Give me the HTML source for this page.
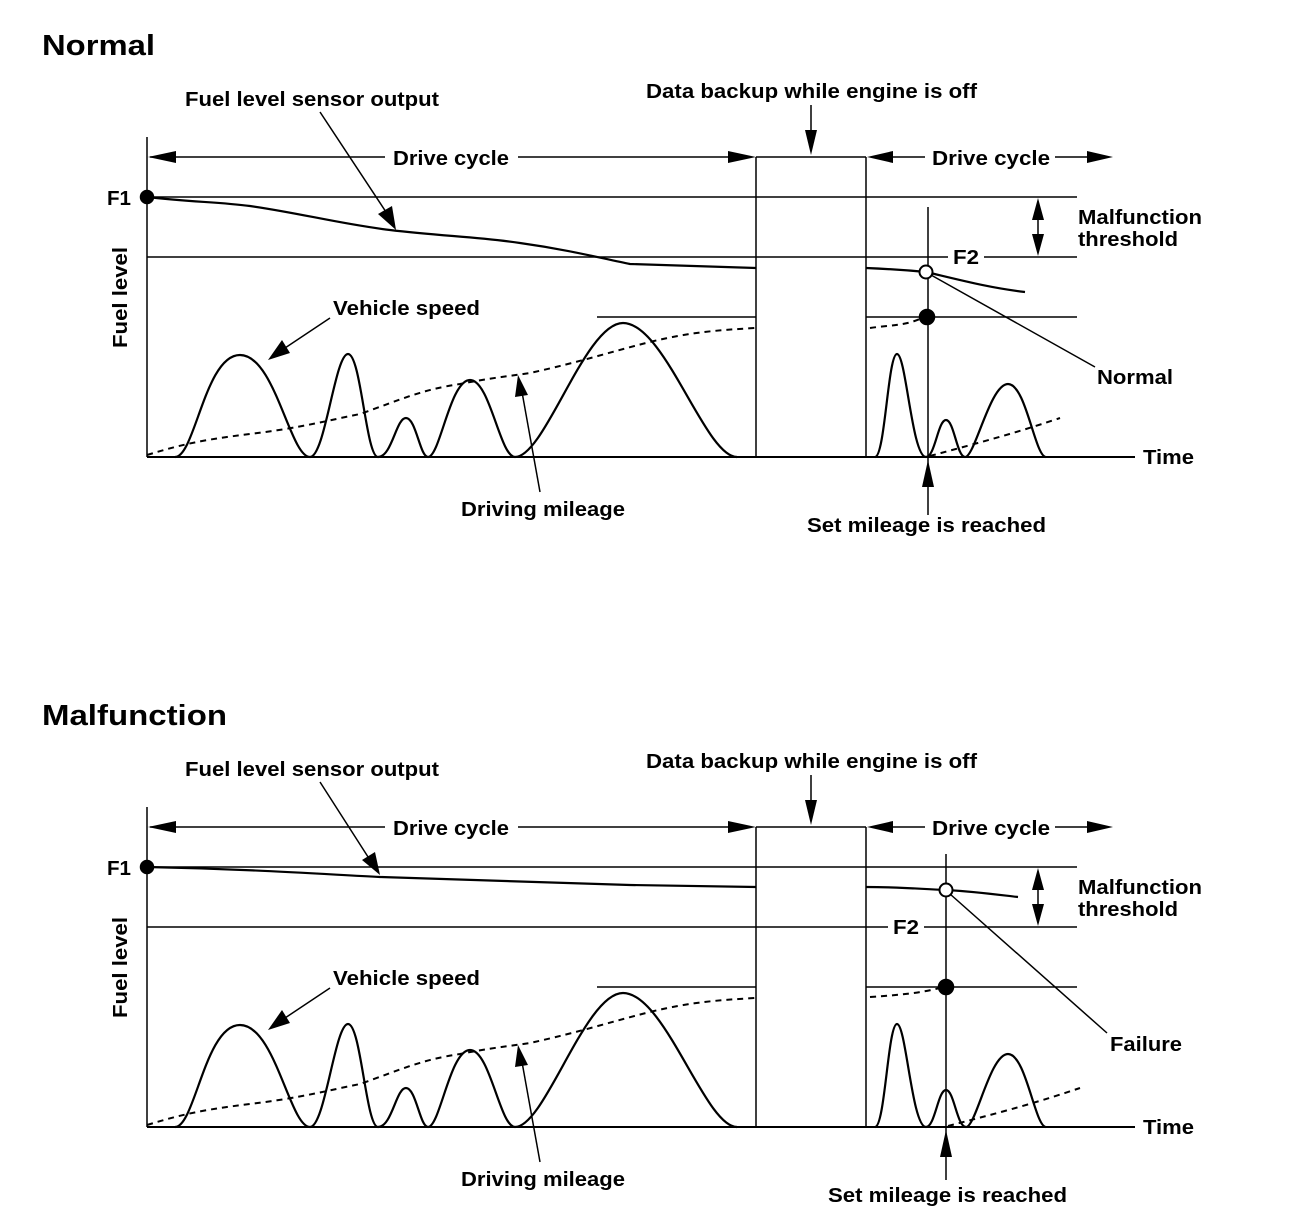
<!DOCTYPE html>
<html><head><meta charset="utf-8"><style>
html,body{margin:0;padding:0;background:#fff;}
svg{display:block;}
text{font-family:"Liberation Sans",Arial,sans-serif;font-weight:bold;fill:#000;}
</style></head><body>
<svg width="1312" height="1220" viewBox="0 0 1312 1220" xmlns="http://www.w3.org/2000/svg">

<!-- ===== TOP PANEL ===== -->
<g stroke="#000" fill="none" stroke-width="1.5">
<line x1="147" y1="137" x2="147" y2="457"/>
<line x1="147" y1="457" x2="1135" y2="457" stroke-width="2"/>
<line x1="147" y1="197" x2="1077" y2="197"/>
<line x1="147" y1="257" x2="948" y2="257"/>
<line x1="984" y1="257" x2="1077" y2="257"/>
<line x1="597" y1="317" x2="756" y2="317"/>
<line x1="866" y1="317" x2="1077" y2="317"/>
<line x1="756" y1="157" x2="756" y2="457"/>
<line x1="866" y1="157" x2="866" y2="457"/>
<line x1="756" y1="157" x2="866" y2="157"/>
<line x1="150" y1="157" x2="385" y2="157"/>
<polygon points="148,157 176,151 176,163" fill="#000" stroke="none"/>
<line x1="518" y1="157" x2="735" y2="157"/>
<polygon points="756,157 728,151 728,163" fill="#000" stroke="none"/>
<line x1="880" y1="157" x2="925" y2="157"/>
<polygon points="867,157 893,151 893,163" fill="#000" stroke="none"/>
<line x1="1055" y1="157" x2="1095" y2="157"/>
<polygon points="1113,157 1087,151 1087,163" fill="#000" stroke="none"/>
<line x1="811" y1="105" x2="811" y2="135"/>
<polygon points="811,155 805,130 817,130" fill="#000" stroke="none"/>
<line x1="1038" y1="210" x2="1038" y2="244"/>
<polygon points="1038,198 1032,220 1044,220" fill="#000" stroke="none"/>
<polygon points="1038,256 1032,234 1044,234" fill="#000" stroke="none"/>
<path d="M147,197 C190,202 220,202 250,206 C300,213 340,224 390,230 C440,236 480,237 520,243 C570,250 600,258 630,264 L756,268" stroke-width="2.2"/>
<path d="M866,268 C890,269 905,270 926,272 C960,280 990,288 1025,292" stroke-width="2.2"/>
<circle cx="147" cy="197" r="6.5" fill="#000"/>
<line x1="320" y1="112" x2="388" y2="215"/>
<polygon points="396,230 378,214 392,206" fill="#000" stroke="none"/>
<line x1="928" y1="207" x2="928" y2="470"/>
<polygon points="928,460 922,487 934,487" fill="#000" stroke="none"/>
<line x1="928" y1="485" x2="928" y2="515"/>
<circle cx="926" cy="272" r="6.5" fill="#fff" stroke-width="2"/>
<circle cx="927" cy="317" r="7.5" fill="#000"/>
<line x1="931" y1="275" x2="1095" y2="367"/>
<path d="M175,457 C195,457 205,355 240,355 C275,355 290,457 310,457 C325,457 335,354 348,354 C361,354 366,457 378,457 C392,457 396,418 406,418 C416,418 420,457 428,457 C440,457 450,380 470,380 C490,380 500,457 515,457 C545,457 585,323 623,323 C665,323 705,457 737,457" stroke-width="2.2"/>
<path d="M875,457 C885,457 888,354 897,354 C906,354 912,457 926,457 C935,457 938,420 946,420 C954,420 957,457 965,457 C975,457 990,384 1008,384 C1026,384 1035,457 1046,457" stroke-width="2.2"/>
<path d="M147,455 C180,445 200,440 250,434 C300,428 330,420 360,414 C400,400 420,390 460,384 C490,378 510,376 530,373 C580,362 610,352 650,342 C690,332 720,330 755,328" stroke-dasharray="6,5" stroke-width="2"/>
<path d="M870,328 C890,325 905,326 922,318" stroke-dasharray="6,5" stroke-width="2"/>
<path d="M930,456 C970,445 1010,435 1060,418" stroke-dasharray="6,5" stroke-width="2"/>
<line x1="330" y1="318" x2="282" y2="350"/>
<polygon points="268,360 282,340 290,353" fill="#000" stroke="none"/>
<line x1="540" y1="492" x2="522" y2="392"/>
<polygon points="518,375 515,397 528,395" fill="#000" stroke="none"/>
</g>
<g font-size="20">
<text x="42" y="55" font-size="29" textLength="113" lengthAdjust="spacingAndGlyphs">Normal</text>
<text x="185" y="106" textLength="254" lengthAdjust="spacingAndGlyphs">Fuel level sensor output</text>
<text x="646" y="98" textLength="331" lengthAdjust="spacingAndGlyphs">Data backup while engine is off</text>
<text x="393" y="165" textLength="116" lengthAdjust="spacingAndGlyphs">Drive cycle</text>
<text x="932" y="165" textLength="118" lengthAdjust="spacingAndGlyphs">Drive cycle</text>
<text x="107" y="205" textLength="24" lengthAdjust="spacingAndGlyphs">F1</text>
<text x="953" y="264" textLength="26" lengthAdjust="spacingAndGlyphs">F2</text>
<text x="1078" y="224" textLength="124" lengthAdjust="spacingAndGlyphs">Malfunction</text>
<text x="1078" y="246" textLength="100" lengthAdjust="spacingAndGlyphs">threshold</text>
<text x="333" y="315" textLength="147" lengthAdjust="spacingAndGlyphs">Vehicle speed</text>
<text x="1097" y="384" textLength="76" lengthAdjust="spacingAndGlyphs">Normal</text>
<text x="1143" y="464" textLength="51" lengthAdjust="spacingAndGlyphs">Time</text>
<text x="461" y="516" textLength="164" lengthAdjust="spacingAndGlyphs">Driving mileage</text>
<text x="807" y="532" textLength="239" lengthAdjust="spacingAndGlyphs">Set mileage is reached</text>
<text transform="translate(127,348) rotate(-90)" textLength="101" lengthAdjust="spacingAndGlyphs">Fuel level</text>
</g>

<!-- ===== BOTTOM PANEL ===== -->
<g transform="translate(0,670)">
<g stroke="#000" fill="none" stroke-width="1.5">
<line x1="147" y1="137" x2="147" y2="457"/>
<line x1="147" y1="457" x2="1135" y2="457" stroke-width="2"/>
<line x1="147" y1="197" x2="1077" y2="197"/>
<line x1="147" y1="257" x2="888" y2="257"/>
<line x1="924" y1="257" x2="1077" y2="257"/>
<line x1="597" y1="317" x2="756" y2="317"/>
<line x1="866" y1="317" x2="1077" y2="317"/>
<line x1="756" y1="157" x2="756" y2="457"/>
<line x1="866" y1="157" x2="866" y2="457"/>
<line x1="756" y1="157" x2="866" y2="157"/>
<line x1="150" y1="157" x2="385" y2="157"/>
<polygon points="148,157 176,151 176,163" fill="#000" stroke="none"/>
<line x1="518" y1="157" x2="735" y2="157"/>
<polygon points="756,157 728,151 728,163" fill="#000" stroke="none"/>
<line x1="880" y1="157" x2="925" y2="157"/>
<polygon points="867,157 893,151 893,163" fill="#000" stroke="none"/>
<line x1="1055" y1="157" x2="1095" y2="157"/>
<polygon points="1113,157 1087,151 1087,163" fill="#000" stroke="none"/>
<line x1="811" y1="105" x2="811" y2="135"/>
<polygon points="811,155 805,130 817,130" fill="#000" stroke="none"/>
<line x1="1038" y1="210" x2="1038" y2="244"/>
<polygon points="1038,198 1032,220 1044,220" fill="#000" stroke="none"/>
<polygon points="1038,256 1032,234 1044,234" fill="#000" stroke="none"/>
<path d="M147,197 C250,199 320,204 380,207 C480,210 560,213 630,215 L756,217" stroke-width="2.2"/>
<path d="M866,217 C900,217 920,219 946,220 C980,222 1000,225 1018,227" stroke-width="2.2"/>
<circle cx="147" cy="197" r="6.5" fill="#000"/>
<line x1="320" y1="112" x2="370" y2="190"/>
<polygon points="380,205 362,190 375,182" fill="#000" stroke="none"/>
<line x1="946" y1="184" x2="946" y2="470"/>
<polygon points="946,460 940,487 952,487" fill="#000" stroke="none"/>
<line x1="946" y1="485" x2="946" y2="510"/>
<circle cx="946" cy="220" r="6.5" fill="#fff" stroke-width="2"/>
<circle cx="946" cy="317" r="7.5" fill="#000"/>
<line x1="950" y1="224" x2="1107" y2="363"/>
<path d="M175,457 C195,457 205,355 240,355 C275,355 290,457 310,457 C325,457 335,354 348,354 C361,354 366,457 378,457 C392,457 396,418 406,418 C416,418 420,457 428,457 C440,457 450,380 470,380 C490,380 500,457 515,457 C545,457 585,323 623,323 C665,323 705,457 737,457" stroke-width="2.2"/>
<path d="M875,457 C885,457 888,354 897,354 C906,354 912,457 926,457 C935,457 938,420 946,420 C954,420 957,457 966,457 C976,457 990,384 1008,384 C1026,384 1035,457 1046,457" stroke-width="2.2"/>
<path d="M147,455 C180,445 200,440 250,434 C300,428 330,420 360,414 C400,400 420,390 460,384 C490,378 510,376 530,373 C580,362 610,352 650,342 C690,332 720,330 755,328" stroke-dasharray="6,5" stroke-width="2"/>
<path d="M870,327 C900,325 920,323 940,318" stroke-dasharray="6,5" stroke-width="2"/>
<path d="M948,456 C990,445 1030,435 1080,418" stroke-dasharray="6,5" stroke-width="2"/>
<line x1="330" y1="318" x2="282" y2="350"/>
<polygon points="268,360 282,340 290,353" fill="#000" stroke="none"/>
<line x1="540" y1="492" x2="522" y2="392"/>
<polygon points="518,375 515,397 528,395" fill="#000" stroke="none"/>
</g>
<g font-size="20">
<text x="42" y="55" font-size="29" textLength="185" lengthAdjust="spacingAndGlyphs">Malfunction</text>
<text x="185" y="106" textLength="254" lengthAdjust="spacingAndGlyphs">Fuel level sensor output</text>
<text x="646" y="98" textLength="331" lengthAdjust="spacingAndGlyphs">Data backup while engine is off</text>
<text x="393" y="165" textLength="116" lengthAdjust="spacingAndGlyphs">Drive cycle</text>
<text x="932" y="165" textLength="118" lengthAdjust="spacingAndGlyphs">Drive cycle</text>
<text x="107" y="205" textLength="24" lengthAdjust="spacingAndGlyphs">F1</text>
<text x="893" y="264" textLength="26" lengthAdjust="spacingAndGlyphs">F2</text>
<text x="1078" y="224" textLength="124" lengthAdjust="spacingAndGlyphs">Malfunction</text>
<text x="1078" y="246" textLength="100" lengthAdjust="spacingAndGlyphs">threshold</text>
<text x="333" y="315" textLength="147" lengthAdjust="spacingAndGlyphs">Vehicle speed</text>
<text x="1110" y="381" textLength="72" lengthAdjust="spacingAndGlyphs">Failure</text>
<text x="1143" y="464" textLength="51" lengthAdjust="spacingAndGlyphs">Time</text>
<text x="461" y="516" textLength="164" lengthAdjust="spacingAndGlyphs">Driving mileage</text>
<text x="828" y="532" textLength="239" lengthAdjust="spacingAndGlyphs">Set mileage is reached</text>
<text transform="translate(127,348) rotate(-90)" textLength="101" lengthAdjust="spacingAndGlyphs">Fuel level</text>
</g>
</g>
</svg>
</body></html>
